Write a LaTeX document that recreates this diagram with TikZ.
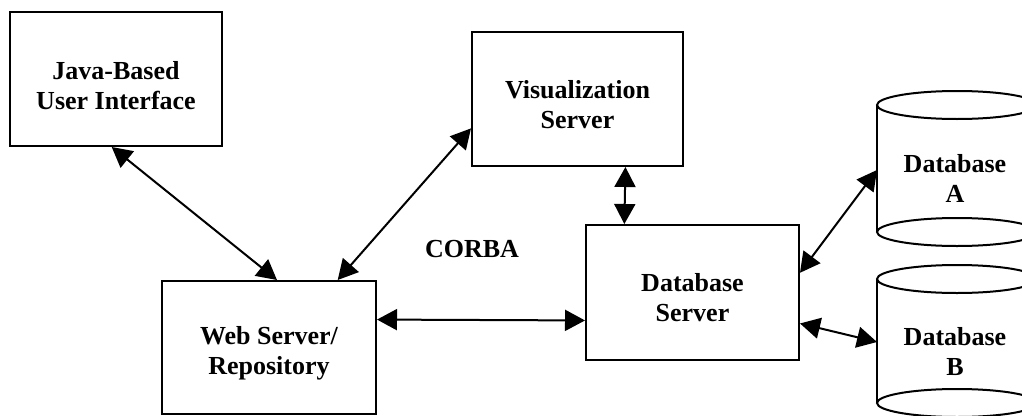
\documentclass[tikz,border=0pt]{standalone}
\usepackage{fontspec}
\setmainfont{Liberation Serif}
\usetikzlibrary{arrows.meta,calc}

\tikzset{
  box/.style={draw, line width=2pt, inner sep=0pt},
  label text/.style={inner sep=0pt, align=center,
    font=\fontsize{26}{30}\selectfont\bfseries},
  link/.style={line width=2pt, <->,
    >={Triangle[length=20pt,width=21pt]}},
  drum/.style={line width=2pt}
}

\begin{document}
\begin{tikzpicture}[x=1pt,y=-1pt]
  \useasboundingbox (0,0) rectangle (1022,415);
  \clip (0,0) rectangle (1022,415);

  % processing boxes
  \node[box, minimum width=212pt, minimum height=134pt] (java) at (116,79) {};
  \node[box, minimum width=211pt, minimum height=134pt] (vis) at (577.5,99) {};
  \node[box, minimum width=214pt, minimum height=133pt] (web) at (269,347.5) {};
  \node[box, minimum width=213pt, minimum height=135pt] (dbs) at (692.5,292.5) {};

  % box captions
  \node[label text] (javat) at ([yshift=-7pt]java.center) {Java-Based\\User Interface};
  \node[label text] (vist) at ([yshift=-6pt]vis.center) {Visualization\\Server};
  \node[label text] (webt) at ([yshift=-6pt]web.center) {Web Server/\\Repository};
  \node[label text] (dbst) at ([yshift=-5pt]dbs.center) {Database\\Server};

  \node[label text] (corba) at (472,249) {CORBA};

  % database drums
  \foreach \top/\bot in {105/232, 279/403} {
    \draw[drum] (877,\top) -- (877,\bot);
    \draw[drum] (1037,\top) -- (1037,\bot);
    \draw[drum, fill=white] (957,\top) ellipse [x radius=80, y radius=14];
    \draw[drum] (957,\bot) ellipse [x radius=80, y radius=14];
  }
  \node[label text] (dba) at (955,178) {Database\\A};
  \node[label text] (dbb) at (955,352) {Database\\B};
  \coordinate (dbaside) at (877,170);
  \coordinate (dbbside) at (877,342);

  % connectors
  \draw[link] ($(java.south west)!0.48!(java.south east)$) --
              ($(web.north west)!0.537!(web.north east)$);
  \draw[link] ($(vis.north west)!0.716!(vis.south west)$) --
              ($(web.north west)!0.818!(web.north east)$);
  \draw[link] ($(vis.south west)!0.725!(vis.south east)$) --
              ($(dbs.north west)!0.183!(dbs.north east)$);
  \draw[link] ($(web.north east)!0.293!(web.south east)$) --
              ($(dbs.north west)!0.704!(dbs.south west)$);
  \draw[link] ($(dbs.north east)!0.356!(dbs.south east)$) -- (dbaside);
  \draw[link] ($(dbs.north east)!0.726!(dbs.south east)$) -- (dbbside);
\end{tikzpicture}
\end{document}
